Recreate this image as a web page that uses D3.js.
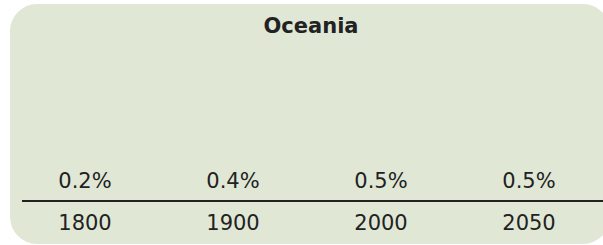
<!DOCTYPE html>
<html>
<head>
<meta charset="utf-8">
<script src="https://cdn.jsdelivr.net/npm/d3@7"></script>
<style>
  html, body { margin: 0; padding: 0; background: #ffffff; }
  svg { display: block; }
  text { font-family: "DejaVu Sans", Verdana, sans-serif; fill: #222; }
</style>
</head>
<body>
<svg id="chart" width="603" height="245"></svg>
<script>
const title = "Oceania";
const years = ["1800", "1900", "2000", "2050"];
const shares = [0.2, 0.4, 0.5, 0.5];

const svg = d3.select("#chart");
const W = 603, H = 245;

// panel background
svg.append("rect")
  .attr("x", 10).attr("y", 4)
  .attr("width", 600).attr("height", 240)
  .attr("rx", 27).attr("ry", 27)
  .attr("fill", "#e0e8d5");

const x = d3.scaleBand().domain(years).range([11, 603]);

svg.append("text")
  .attr("x", 311).attr("y", 33)
  .attr("text-anchor", "middle")
  .attr("font-weight", "bold")
  .attr("font-size", 21)
  .text(title);

const fmt = d => d3.format(".1f")(d) + "%";

svg.selectAll("text.val")
  .data(years.map((y, i) => ({ year: y, v: shares[i] })))
  .join("text")
  .attr("class", "val")
  .attr("x", d => x(d.year) + x.bandwidth() / 2)
  .attr("y", 188)
  .attr("text-anchor", "middle")
  .attr("font-size", 21)
  .text(d => fmt(d.v));

// axis line with year labels
const axis = d3.axisBottom(x).tickSize(0).tickPadding(14);
const g = svg.append("g").attr("transform", "translate(0,201)").call(axis);
g.select(".domain").attr("d", `M22,0H${W}`).attr("stroke", "#222").attr("stroke-width", 2);
g.selectAll(".tick text")
  .attr("font-size", 21)
  .attr("font-family", "DejaVu Sans, Verdana, sans-serif")
  .attr("fill", "#222");
</script>
</body>
</html>
